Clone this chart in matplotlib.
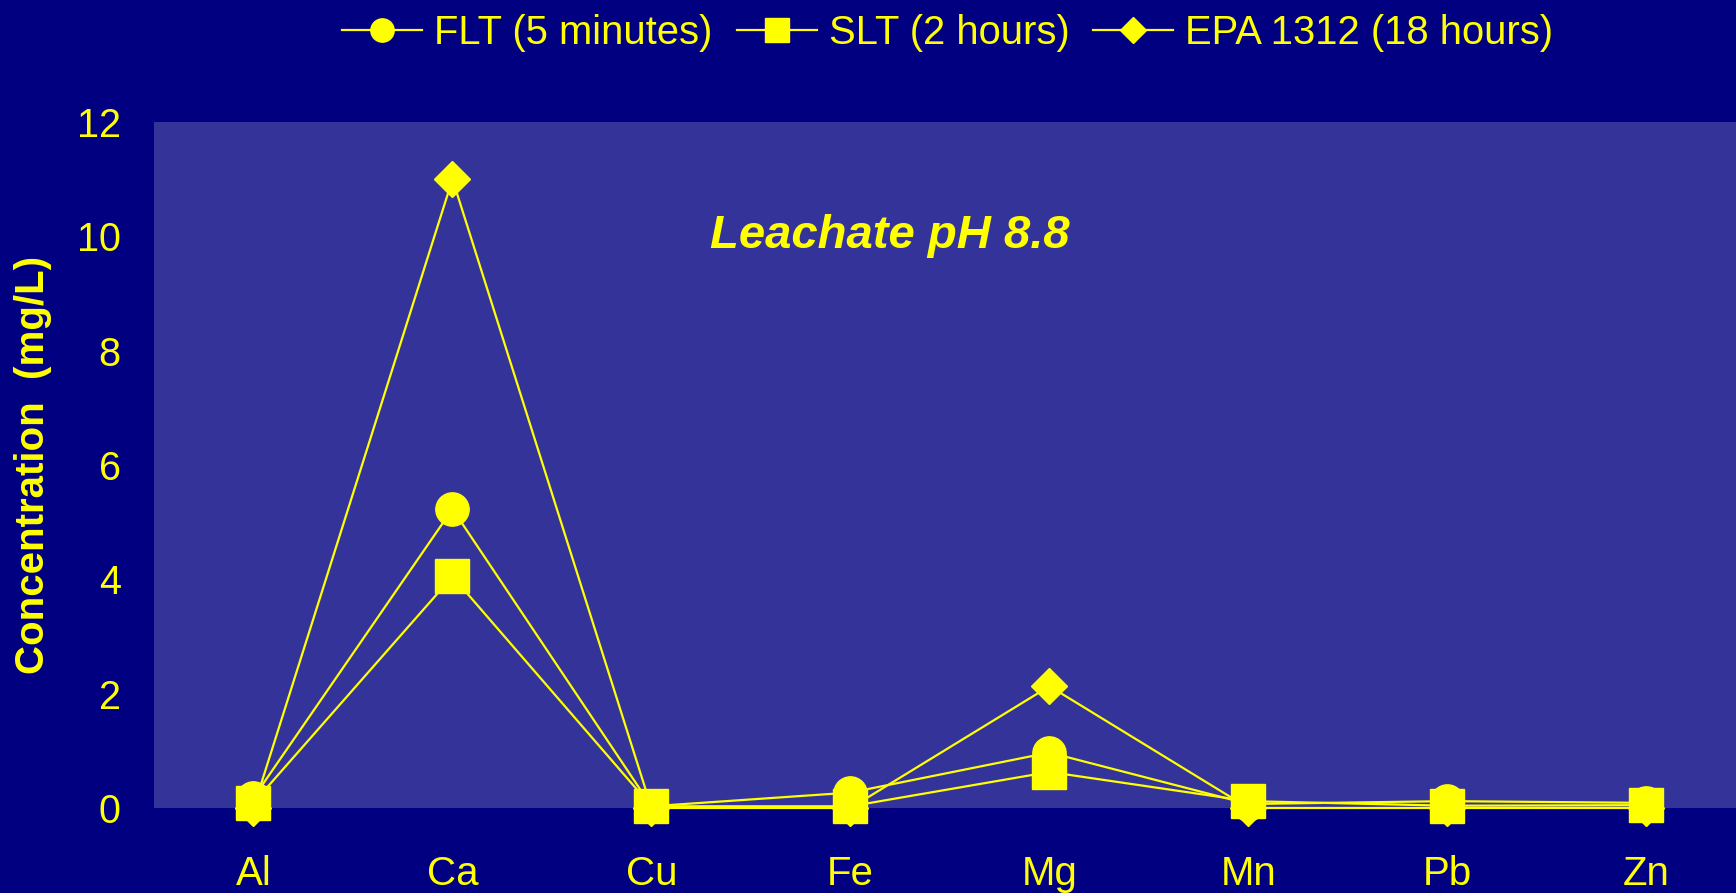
"Leachate concentrations, pH 8.8"

import matplotlib
matplotlib.use('Agg')
import matplotlib.pyplot as plt

elements = ['Al', 'Ca', 'Cu', 'Fe', 'Mg', 'Mn', 'Pb', 'Zn']
flt = [0.18, 5.23, 0.03, 0.27, 0.97, 0.07, 0.12, 0.09]   # FLT (5 minutes), mg/L
slt = [0.09, 4.05, 0.03, 0.03, 0.63, 0.12, 0.04, 0.05]   # SLT (2 hours)
epa = [0.0, 11.0, 0.0, 0.0, 2.13, 0.0, 0.0, 0.0]         # EPA 1312 (18 hours)
yticks = [0, 2, 4, 6, 8, 10, 12]

yellow = '#FFFF00'
plt.rcParams['font.family'] = ['Liberation Sans', 'DejaVu Sans']

fig = plt.figure(figsize=(17.36, 8.93), dpi=100, facecolor='#000080')
ax = fig.add_axes([154/1736, 1 - 808/893, 1 - 154/1736, 686/893])
ax.set_facecolor('#333399')

x = range(len(elements))
l3, = ax.plot(x, epa, '-D', color=yellow, lw=1.6, ms=18.5, zorder=2, clip_on=False,
              label='EPA 1312 (18 hours)')
l1, = ax.plot(x, flt, '-o', color=yellow, lw=1.6, ms=24, zorder=3, clip_on=False,
              label='FLT (5 minutes)')
l2, = ax.plot(x, slt, '-s', color=yellow, lw=1.6, ms=24, zorder=4, clip_on=False,
              label='SLT (2 hours)')

ax.set_xlim(-0.5, 7.45)
ax.set_ylim(0, 12)
ax.set_yticks(yticks)
ax.set_xticks(list(x))
ax.set_xticklabels(elements)
for s in ax.spines.values():
    s.set_visible(False)
ax.tick_params(axis='y', length=0, pad=24, labelsize=28.5, labelcolor=yellow)
ax.tick_params(axis='x', length=0, pad=34, labelsize=29, labelcolor=yellow)
ax.set_ylabel('Concentration  (mg/L)', fontsize=29, fontweight='bold', color=yellow)
ax.yaxis.set_label_coords(-102/1582, 0.5)

ax.text(3.2, 10.0, 'Leachate pH 8.8', ha='center', va='center', fontsize=34,
        fontweight='bold', fontstyle='italic', color=yellow)

fig.legend(handles=[l1, l2, l3], loc='center', bbox_to_anchor=(0.546, 0.963), ncol=3,
           frameon=False, fontsize=28.8, labelcolor=yellow, markerscale=0.7,
           handlelength=2.0, handletextpad=0.3, columnspacing=0.6)

fig.savefig('out.png', dpi=100, facecolor=fig.get_facecolor())
